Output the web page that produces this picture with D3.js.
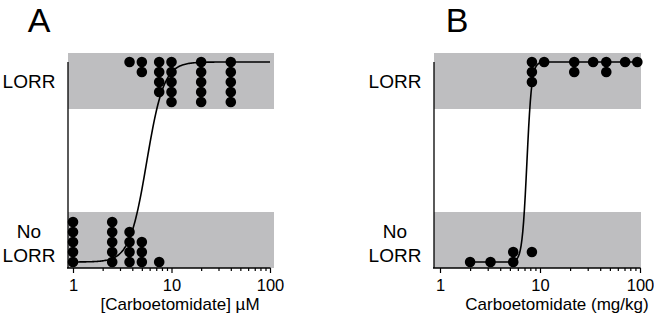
<!DOCTYPE html>
<html lang="en">
  <head>
    <title>Carboetomidate LORR</title>
    <script src="https://cdn.jsdelivr.net/npm/d3@7"></script>
    <style>
      body { margin: 0; background: #fff; }
      text { font-family: 'Liberation Sans', Arial, sans-serif; fill: #000; }
    </style>
  </head>
  <body>
    <div id='chart'></div>
    <script type='text/javascript'>
      // panel A: [Carboetomidate] uM
      let a_lorr_doses = [3.75, 5, 7.5, 10, 20, 40]
      let a_lorr_counts = [1, 2, 4, 5, 5, 5]
      let a_nolorr_doses = [1, 2.5, 3.75, 5, 7.5]
      let a_nolorr_counts = [5, 5, 4, 3, 1]
      let a_nolorr_start = [0, 0, 0, 0, 0]
      let a_fit = {ec50: 5.6, hill: 5, from: 1, to: 100}

      // panel B: carboetomidate mg/kg
      let b_lorr_doses = [8.3, 11, 22, 34, 46, 71, 94]
      let b_lorr_counts = [3, 1, 2, 1, 2, 1, 1]
      let b_nolorr_doses = [2, 3.2, 5.4, 8.3]
      let b_nolorr_counts = [1, 1, 2, 1]
      let b_nolorr_start = [0, 0, 0, 1]
      let b_fit = {ec50: 7.4, hill: 18, from: 2, to: 94}

      let tick_values = [1,2,3,4,5,6,7,8,9,10,20,30,40,50,60,70,80,90,100]
      let major_ticks = [1, 10, 100]

      let svg = d3.select('#chart').append('svg')
        .attr('width', 654)
        .attr('height', 320)

      function drawPanel(p) {
        let g = svg.append('g')
        let scale_x = d3.scaleLog().domain([1, 100]).range(p.xRange)
        let scale_y = d3.scaleLinear().domain([0, 1]).range([262, 62])
        let step = 0.05

        // grey bands
        g.append('rect')
          .attr('x', p.axisX).attr('width', p.bandRight - p.axisX)
          .attr('y', scale_y(1.045)).attr('height', scale_y(0.765) - scale_y(1.045))
          .attr('fill', '#bebec0')
        g.append('rect')
          .attr('x', p.axisX).attr('width', p.bandRight - p.axisX)
          .attr('y', scale_y(0.25)).attr('height', scale_y(-0.03) - scale_y(0.25))
          .attr('fill', '#bebec0')

        // fitted curve
        let xs = d3.range(0, 201).map(i => Math.pow(10, Math.log10(p.fit.from) + i / 200 * (Math.log10(p.fit.to) - Math.log10(p.fit.from))))
        let hill = x => { let r = Math.pow(x / p.fit.ec50, p.fit.hill); return r / (1 + r) }
        g.append('path')
          .datum(xs)
          .attr('d', d3.line().x(d => scale_x(d)).y(d => scale_y(hill(d))))
          .attr('fill', 'none')
          .attr('stroke', '#000')
          .attr('stroke-width', 1.6)

        // dots
        let pts = []
        p.lorrDoses.forEach((d, i) => {
          for (let k = 0; k < p.lorrCounts[i]; k++) pts.push([d, 1 - k * step])
        })
        p.noDoses.forEach((d, i) => {
          for (let k = 0; k < p.noCounts[i]; k++) pts.push([d, (p.noStart[i] + k) * step])
        })
        g.selectAll('circle.pt')
          .data(pts)
          .enter()
          .append('circle')
          .attr('cx', d => scale_x(d[0]))
          .attr('cy', d => scale_y(d[1]))
          .attr('r', 5.3)
          .attr('fill', '#000')

        // x axis
        let x_axis = d3.axisBottom(scale_x)
          .tickValues(tick_values)
          .tickSizeOuter(0)
          .tickSize(3)
          .tickFormat(d => major_ticks.includes(d) ? d : '')
        let ax = g.append('g')
          .attr('transform', 'translate(0,268)')
          .call(x_axis)
        ax.select('.domain').remove()
        ax.selectAll('.tick line')
          .attr('y2', d => major_ticks.includes(d) ? 5 : 3)
          .attr('stroke-width', 1.2)
        ax.selectAll('.tick text')
          .attr('y', 11)
          .attr('font-size', '16.5px')
          .attr('font-family', null)
        g.append('line')
          .attr('x1', p.axisX - 1).attr('x2', scale_x(100) + 0.5)
          .attr('y1', 268).attr('y2', 268)
          .attr('stroke', '#000').attr('stroke-width', 1.3)

        // y axis
        g.append('line')
          .attr('x1', p.axisX).attr('x2', p.axisX)
          .attr('y1', 62).attr('y2', 268)
          .attr('stroke', '#000').attr('stroke-width', 1.3)

        // labels
        g.append('text').text(p.title)
          .attr('x', p.titleX).attr('y', 310)
          .attr('text-anchor', 'middle').attr('font-size', '17px')
        g.append('text').text(p.letter)
          .attr('x', p.letterX).attr('y', 32)
          .attr('text-anchor', 'middle').attr('font-size', '34px')
        g.append('text').text('LORR')
          .attr('x', p.labelX).attr('y', 88)
          .attr('text-anchor', 'middle').attr('font-size', '19px')
        g.append('text').text('No')
          .attr('x', p.labelX).attr('y', 238)
          .attr('text-anchor', 'middle').attr('font-size', '19px')
        g.append('text').text('LORR')
          .attr('x', p.labelX).attr('y', 262)
          .attr('text-anchor', 'middle').attr('font-size', '19px')
      }

      drawPanel({
        letter: 'A', letterX: 39, labelX: 29,
        xRange: [73, 270], axisX: 68, bandRight: 274,
        title: '[Carboetomidate] \u00b5M', titleX: 180,
        lorrDoses: a_lorr_doses, lorrCounts: a_lorr_counts,
        noDoses: a_nolorr_doses, noCounts: a_nolorr_counts, noStart: a_nolorr_start,
        fit: a_fit
      })
      drawPanel({
        letter: 'B', letterX: 457, labelX: 395,
        xRange: [440, 640], axisX: 434, bandRight: 641,
        title: 'Carboetomidate (mg/kg)', titleX: 557,
        lorrDoses: b_lorr_doses, lorrCounts: b_lorr_counts,
        noDoses: b_nolorr_doses, noCounts: b_nolorr_counts, noStart: b_nolorr_start,
        fit: b_fit
      })
    </script>
  </body>
</html>
